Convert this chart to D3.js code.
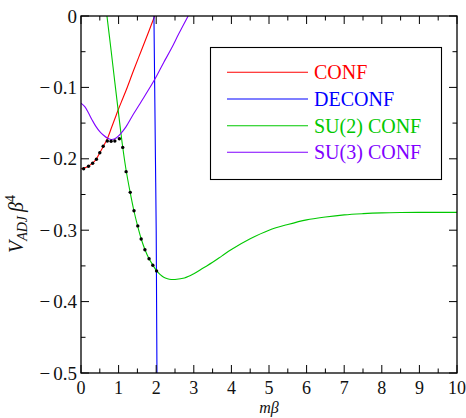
<!DOCTYPE html>
<html>
<head>
<meta charset="utf-8">
<script src="https://cdn.jsdelivr.net/npm/d3@7"></script>
<style>
  body { margin: 0; background: #fff; }
  text { font-family: "Liberation Serif", "DejaVu Serif", serif; }
</style>
</head>
<body>
<svg id="chart" width="466" height="418"></svg>
<script>
// ---- data ----
const confX   = [0, 0.1, 0.2, 0.3, 0.4, 0.5, 0.6, 0.7, 0.8, 0.9, 1.0, 1.1, 1.2, 1.4, 1.6, 1.8, 1.96];
const confY   = [-0.214, -0.2125, -0.2103, -0.2065, -0.201, -0.1915, -0.182, -0.172, -0.158, -0.144, -0.130, -0.117, -0.104, -0.076, -0.049, -0.022, 0.0];

const deconfX = [1.94, 1.96, 1.98, 2.0, 2.01, 2.02];
const deconfY = [0.0, -0.1, -0.2, -0.3, -0.4, -0.5];

const su2X = [0.69, 0.8, 0.9, 1.0, 1.1, 1.2, 1.3, 1.4, 1.5, 1.6, 1.7, 1.8, 1.9, 2.0, 2.1, 2.2, 2.3, 2.4, 2.5, 2.75, 3.0, 3.25, 3.5, 3.75, 4.0, 4.5, 5.0, 5.5, 6.0, 6.5, 7.0, 7.5, 8.0, 8.5, 9.0, 9.5, 10.0];
const su2Y = [0.0, -0.048, -0.093, -0.137, -0.180, -0.216, -0.245, -0.271, -0.293, -0.312, -0.327, -0.339, -0.348, -0.356, -0.362, -0.366, -0.368, -0.369, -0.369, -0.367, -0.361, -0.353, -0.345, -0.336, -0.327, -0.312, -0.300, -0.292, -0.2855, -0.2815, -0.2785, -0.2768, -0.2757, -0.2752, -0.275, -0.275, -0.275];

const su3X = [0, 0.1, 0.2, 0.3, 0.4, 0.5, 0.6, 0.7, 0.8, 0.9, 1.0, 1.1, 1.2, 1.4, 1.6, 1.8, 2.0, 2.2, 2.4, 2.6, 2.85];
const su3Y = [-0.122, -0.127, -0.136, -0.146, -0.155, -0.162, -0.167, -0.171, -0.173, -0.172, -0.168, -0.162, -0.155, -0.137, -0.120, -0.103, -0.085, -0.065, -0.046, -0.025, 0.0];

const dotX = [0.07, 0.2, 0.31, 0.41, 0.5, 0.59, 0.7, 0.8, 0.9, 1.02, 1.11, 1.2, 1.31, 1.41, 1.51, 1.6, 1.7, 1.81, 1.91, 2.01];
const dotY = [-0.2139, -0.2105, -0.2063, -0.2007, -0.1915, -0.1825, -0.175, -0.1755, -0.175, -0.172, -0.184, -0.2180, -0.247, -0.2727, -0.294, -0.3123, -0.3273, -0.340, -0.349, -0.357];

const seriesNames = ["CONF", "DECONF", "SU(2) CONF", "SU(3) CONF"];
const xTicks = [0, 1, 2, 3, 4, 5, 6, 7, 8, 9, 10];
const yTicks = [0, -0.1, -0.2, -0.3, -0.4, -0.5];
const yTickLabels = ["0", "\u22120.1", "\u22120.2", "\u22120.3", "\u22120.4", "\u22120.5"];

// ---- layout ----
const colors = ["#ff0000", "#0000ff", "#00c800", "#8000ff"];
const margin = { left: 81, top: 16, right: 9, bottom: 45 };
const W = 466, H = 418;
const iw = W - margin.left - margin.right;
const ih = H - margin.top - margin.bottom;

const svg = d3.select("#chart");
const x = d3.scaleLinear().domain([0, 10]).range([0, iw]);
const y = d3.scaleLinear().domain([-0.5, 0]).range([ih, 0]);

const g = svg.append("g").attr("transform", `translate(${margin.left},${margin.top})`);

g.append("clipPath").attr("id", "clip")
  .append("rect").attr("width", iw).attr("height", ih);

const zip = (xs, ys) => xs.map((v, i) => [v, ys[i]]);
const series = [zip(confX, confY), zip(deconfX, deconfY), zip(su2X, su2Y), zip(su3X, su3Y)];

const lineC = d3.line().x(d => x(d[0])).y(d => y(d[1])).curve(d3.curveCatmullRom);

const plot = g.append("g").attr("clip-path", "url(#clip)");
series.forEach((s, i) => {
  plot.append("path")
    .attr("d", lineC(s))
    .attr("fill", "none")
    .attr("stroke", colors[i])
    .attr("stroke-width", 1.1);
});

plot.selectAll("circle.dot").data(zip(dotX, dotY)).enter().append("circle")
  .attr("class", "dot")
  .attr("cx", d => x(d[0])).attr("cy", d => y(d[1]))
  .attr("r", 1.7).attr("fill", "#000");

// ---- axes ----
const majorLen = 8, minorLen = 4.5;
const axisColor = "#000";
const xMinor = d3.range(0, 10.01, 0.5);
const yMinor = d3.range(-0.5, 0.001, 0.05);

function ticksX(yPos, dir) {
  const a = g.append("g");
  a.selectAll("line").data(xMinor).enter().append("line")
    .attr("x1", d => x(d)).attr("x2", d => x(d))
    .attr("y1", yPos)
    .attr("y2", d => yPos + dir * (Math.abs(d - Math.round(d)) < 1e-6 ? majorLen : minorLen))
    .attr("stroke", axisColor).attr("stroke-width", 1);
}
function ticksY(xPos, dir) {
  const a = g.append("g");
  a.selectAll("line").data(yMinor).enter().append("line")
    .attr("y1", d => y(d)).attr("y2", d => y(d))
    .attr("x1", xPos)
    .attr("x2", d => xPos + dir * (Math.abs(d * 10 - Math.round(d * 10)) < 1e-6 ? majorLen : minorLen))
    .attr("stroke", axisColor).attr("stroke-width", 1);
}
ticksX(ih, -1);
ticksX(0, 1);
ticksY(0, 1);
ticksY(iw, -1);

g.append("rect").attr("width", iw).attr("height", ih)
  .attr("fill", "none").attr("stroke", axisColor).attr("stroke-width", 1.3);

// tick labels
g.append("g").selectAll("text").data(xTicks).enter().append("text")
  .attr("x", d => x(d)).attr("y", ih + 21)
  .attr("text-anchor", "middle").attr("font-size", 18).attr("fill", "#111")
  .text(d => d);

g.append("g").selectAll("text").data(yTicks).enter().append("text")
  .attr("x", -4).attr("y", d => y(d) + 6.5)
  .attr("text-anchor", "end").attr("font-size", 19).attr("fill", "#111")
  .each(function(d, i) {
    const lab = yTickLabels[i];
    const t = d3.select(this);
    if (lab.startsWith("\u2212")) {
      t.append("tspan").text("\u2212");
      t.append("tspan").attr("dx", 3).text(lab.slice(1));
    } else {
      t.text(lab);
    }
  });

// axis titles
svg.append("text")
  .attr("x", margin.left + iw / 2).attr("y", 413)
  .attr("text-anchor", "middle").attr("font-size", 16).attr("font-style", "italic").attr("fill", "#111")
  .text("mβ");

const yl = svg.append("text")
  .attr("transform", "translate(23,224) rotate(-90)")
  .attr("text-anchor", "middle").attr("font-size", 20).attr("fill", "#111");
yl.append("tspan").attr("font-style", "italic").text("V");
yl.append("tspan").attr("font-style", "italic").attr("font-size", 14).attr("dy", 4).text("ADJ");
yl.append("tspan").attr("font-style", "italic").attr("dy", -4).attr("dx", 4).text("β");
yl.append("tspan").attr("font-size", 14).attr("dy", -8).text("4");

// ---- legend ----
const lg = svg.append("g");
lg.append("rect").attr("x", 210.5).attr("y", 47.5).attr("width", 231).attr("height", 132)
  .attr("fill", "#fff").attr("stroke", "#000").attr("stroke-width", 1.1);
const rowY = [72.3, 99, 125.7, 152.3];
seriesNames.forEach((n, i) => {
  lg.append("line").attr("x1", 227).attr("x2", 308).attr("y1", rowY[i]).attr("y2", rowY[i])
    .attr("stroke", colors[i]).attr("stroke-width", 1.1);
  lg.append("text").attr("x", 314).attr("y", rowY[i] + 7)
    .attr("font-size", 20).attr("fill", colors[i]).text(n);
});
</script>
</body>
</html>
